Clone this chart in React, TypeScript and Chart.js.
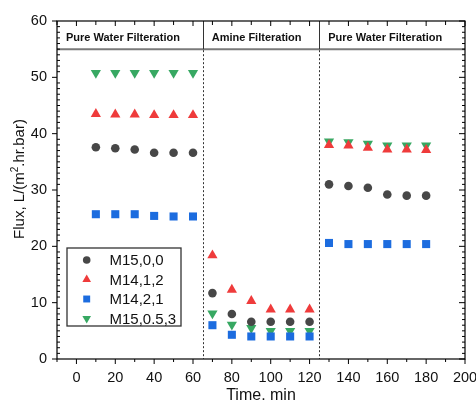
import React, { useEffect, useRef } from 'react';
import { Chart, registerables } from 'chart.js';

Chart.register(...registerables);

// ---- data ----
const times = [10, 20, 30, 40, 50, 60, 70, 80, 90, 100, 110, 120, 130, 140, 150, 160, 170, 180];
const seriesNames = ['M15,0,0', 'M14,1,2', 'M14,2,1', 'M15,0.5,3'];
const fluxM15_0_0 = [37.6, 37.4, 37.2, 36.6, 36.6, 36.6, 11.7, 8.0, 6.6, 6.6, 6.6, 6.6, 31.0, 30.7, 30.4, 29.2, 29.0, 29.0];
const fluxM14_1_2 = [43.5, 43.4, 43.4, 43.3, 43.3, 43.3, 18.4, 12.3, 10.3, 8.8, 8.8, 8.8, 38.0, 37.9, 37.5, 37.2, 37.2, 37.1];
const fluxM14_2_1 = [25.7, 25.7, 25.7, 25.4, 25.3, 25.3, 6.0, 4.3, 4.0, 4.0, 4.0, 4.0, 20.6, 20.4, 20.4, 20.4, 20.4, 20.4];
const fluxM15_05_3 = [50.8, 50.8, 50.8, 50.8, 50.8, 50.8, 8.1, 6.1, 5.5, 5.0, 5.0, 5.0, 38.6, 38.5, 38.2, 37.9, 37.9, 37.9];
const phaseStarts = [-10, 65, 125];
const phaseLabels = ['Pure Water Filteration', 'Amine Filteration', 'Pure Water Filteration'];
const headerLevel = 55;
const xTitle = 'Time. min';
const yTitleParts = ['Flux, L/(m', '2', '.hr.bar)'];

const colors = ['#474747', '#ef3b3b', '#1c6cdf', '#37a862'];
const styles = ['circle', 'triangle', 'rect', 'triangle'];
const rotations = [0, 0, 0, 180];
const radii = [4.3, 5.9, 5.7, 5.9];
const legendRadii = [3.8, 5.0, 4.9, 5.0];
const seriesValues = [fluxM15_0_0, fluxM14_1_2, fluxM14_2_1, fluxM15_05_3];

const FONT = "'Liberation Sans', Arial, sans-serif";

function shape(ctx: CanvasRenderingContext2D, style: string, rotDeg: number, r: number, x: number, y: number) {
  ctx.beginPath();
  if (style === 'circle') {
    ctx.arc(x, y, r, 0, Math.PI * 2);
  } else if (style === 'rect') {
    const s = r * Math.SQRT1_2;
    ctx.rect(x - s, y - s, 2 * s, 2 * s);
  } else {
    let a = (rotDeg * Math.PI) / 180;
    ctx.moveTo(x + Math.sin(a) * r, y - Math.cos(a) * r);
    a += (2 * Math.PI) / 3;
    ctx.lineTo(x + Math.sin(a) * r, y - Math.cos(a) * r);
    a += (2 * Math.PI) / 3;
    ctx.lineTo(x + Math.sin(a) * r, y - Math.cos(a) * r);
    ctx.closePath();
  }
  ctx.fill();
}

const decor = {
  id: 'decor',
  beforeDatasetsDraw(chart: any) {
    const { ctx, chartArea } = chart;
    const xs = chart.scales.x;
    const ys = chart.scales.y;
    const yH = ys.getPixelForValue(headerLevel);
    ctx.save();
    ctx.strokeStyle = '#7a7a7a';
    ctx.lineWidth = 2;
    ctx.beginPath();
    ctx.moveTo(chartArea.left, yH);
    ctx.lineTo(chartArea.right, yH);
    ctx.stroke();
    ctx.strokeStyle = '#333';
    ctx.lineWidth = 1;
    for (let i = 1; i < phaseStarts.length; i++) {
      const px = Math.round(xs.getPixelForValue(phaseStarts[i])) + 0.5;
      ctx.setLineDash([]);
      ctx.beginPath();
      ctx.moveTo(px, chartArea.top);
      ctx.lineTo(px, yH);
      ctx.stroke();
      ctx.setLineDash([2, 2]);
      ctx.beginPath();
      ctx.moveTo(px, yH + 1);
      ctx.lineTo(px, chartArea.bottom);
      ctx.stroke();
    }
    ctx.setLineDash([]);
    ctx.fillStyle = '#111';
    ctx.font = `bold 11px ${FONT}`;
    ctx.textAlign = 'left';
    ctx.textBaseline = 'alphabetic';
    for (let i = 0; i < phaseStarts.length; i++) {
      const px = xs.getPixelForValue(phaseStarts[i]);
      ctx.fillText(phaseLabels[i], px + 9, 41);
    }
    ctx.restore();
  },
  afterDraw(chart: any) {
    const { ctx, chartArea } = chart;
    const xs = chart.scales.x;
    const ys = chart.scales.y;
    const { left, right, top, bottom } = chartArea;
    ctx.save();
    ctx.strokeStyle = '#000';
    ctx.lineWidth = 1.2;
    ctx.strokeRect(left, top, right - left, bottom - top);
    ctx.lineWidth = 1;
    ctx.beginPath();
    for (let v = -10; v <= 200; v += 10) {
      const px = xs.getPixelForValue(v);
      const major = v % 20 === 0;
      ctx.moveTo(px, bottom);
      ctx.lineTo(px, bottom + (major ? 5 : 3));
      ctx.moveTo(px, top);
      ctx.lineTo(px, top + (major ? 5 : 4));
    }
    for (let v = 0; v <= 60; v += 1) {
      const py = ys.getPixelForValue(v);
      if (v % 10 === 0) {
        ctx.moveTo(left, py);
        ctx.lineTo(left - 5, py);
        ctx.moveTo(right, py);
        ctx.lineTo(right - 6, py);
      } else {
        ctx.moveTo(left, py);
        ctx.lineTo(left + 3, py);
        ctx.moveTo(right, py);
        ctx.lineTo(right - 3, py);
      }
    }
    ctx.stroke();

    // legend
    const bx = 67, by = 248, bw = 114, bh = 78;
    ctx.strokeStyle = '#333';
    ctx.lineWidth = 1.3;
    ctx.strokeRect(bx, by, bw, bh);
    const rowsY = [260, 279.5, 299, 318.5];
    ctx.font = `15px ${FONT}`;
    ctx.textAlign = 'left';
    ctx.textBaseline = 'middle';
    for (let i = 0; i < seriesNames.length; i++) {
      ctx.fillStyle = colors[i];
      shape(ctx, styles[i], rotations[i], legendRadii[i], 86.7, rowsY[i]);
      ctx.fillStyle = '#111';
      ctx.fillText(seriesNames[i], 109.5, rowsY[i] + 1);
    }

    // x title
    ctx.fillStyle = '#111';
    ctx.font = `16px ${FONT}`;
    ctx.textAlign = 'center';
    ctx.textBaseline = 'alphabetic';
    ctx.fillText(xTitle, (left + right) / 2, 400);

    // y title
    ctx.translate(24, 179);
    ctx.rotate(-Math.PI / 2);
    const big = `15px ${FONT}`;
    const small = `10px ${FONT}`;
    ctx.font = big;
    const w0 = ctx.measureText(yTitleParts[0]).width;
    const w2 = ctx.measureText(yTitleParts[2]).width;
    ctx.font = small;
    const w1 = ctx.measureText(yTitleParts[1]).width;
    const total = w0 + w1 + w2;
    let cx = -total / 2;
    ctx.textAlign = 'left';
    ctx.font = big;
    ctx.fillText(yTitleParts[0], cx, 0);
    cx += w0;
    ctx.font = small;
    ctx.fillText(yTitleParts[1], cx, -6);
    cx += w1;
    ctx.font = big;
    ctx.fillText(yTitleParts[2], cx, 0);
    ctx.restore();
  },
};

export default function App() {
  const ref = useRef<HTMLCanvasElement>(null);
  useEffect(() => {
    document.body.style.margin = '0';
    const canvas = ref.current;
    if (!canvas) return;
    const datasets = seriesNames.map((name, i) => ({
      label: name,
      data: times.map((t, j) => ({ x: t, y: seriesValues[i][j] })),
      pointStyle: styles[i],
      rotation: rotations[i],
      pointRadius: radii[i],
      pointBorderWidth: 0,
      backgroundColor: colors[i],
      borderColor: colors[i],
      showLine: false,
    }));
    const chart = new Chart(canvas, {
      type: 'scatter',
      data: { datasets },
      options: {
        animation: false,
        responsive: false,
        devicePixelRatio: 1,
        layout: { padding: { top: 21, right: 11, left: 0, bottom: 0 } },
        plugins: { legend: { display: false }, tooltip: { enabled: false } },
        scales: {
          x: {
            type: 'linear',
            min: -10,
            max: 200,
            grid: { display: false, drawTicks: false },
            border: { display: false },
            ticks: {
              stepSize: 20,
              includeBounds: false,
              padding: 10,
              color: '#111',
              font: { family: FONT, size: 14.5 },
              maxRotation: 0,
            },
            afterFit: (s: any) => {
              s.height = 42;
              s.paddingLeft = 0;
              s.paddingRight = 0;
            },
          },
          y: {
            type: 'linear',
            min: 0,
            max: 60,
            grid: { display: false, drawTicks: false },
            border: { display: false },
            ticks: {
              stepSize: 10,
              padding: 10,
              color: '#111',
              font: { family: FONT, size: 14.5 },
            },
            afterFit: (s: any) => {
              s.width = 57;
              s.paddingTop = 0;
              s.paddingBottom = 0;
            },
          },
        },
      } as any,
      plugins: [decor],
    });
    return () => chart.destroy();
  }, []);
  return (
    <div style={{ position: 'relative', width: 476, height: 401 }}>
      <canvas ref={ref} width={476} height={401} style={{ position: 'absolute', left: 0, top: 0 }} />
    </div>
  );
}
